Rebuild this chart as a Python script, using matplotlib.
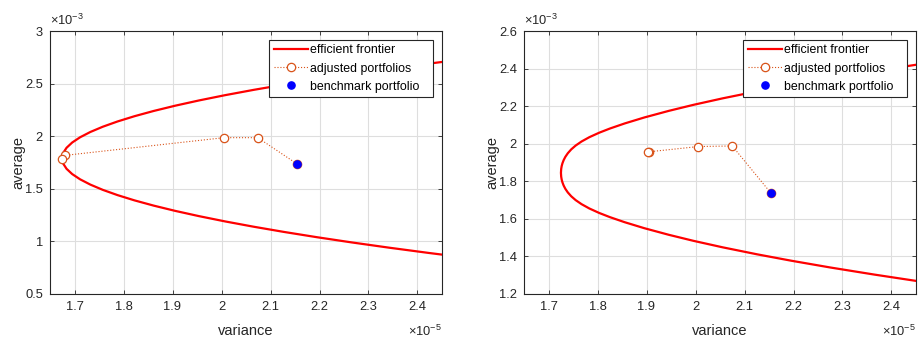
import numpy as np
import matplotlib
matplotlib.use('Agg')
import matplotlib.pyplot as plt
from matplotlib.ticker import FuncFormatter

plt.rcParams['font.family'] = ['Liberation Sans', 'DejaVu Sans']
plt.rcParams['mathtext.fontset'] = 'custom'
plt.rcParams['mathtext.rm'] = 'Liberation Sans'
plt.rcParams['mathtext.it'] = 'Liberation Sans'

# variance in units of 1e-5, average in units of 1e-3
front1_mean = [0.84, 0.89, 0.94, 0.99, 1.04, 1.09, 1.14, 1.19, 1.24, 1.29, 1.34, 1.39, 1.44,
               1.49, 1.54, 1.59, 1.64, 1.69, 1.74, 1.79, 1.84, 1.89, 1.94, 1.99, 2.04, 2.09,
               2.14, 2.19, 2.24, 2.29, 2.34, 2.39, 2.44, 2.49, 2.54, 2.59, 2.64, 2.69, 2.74]
front1_var = [2.5089, 2.4234, 2.3425, 2.2662, 2.1946, 2.1275, 2.0651, 2.0073, 1.9542, 1.9056,
              1.8617, 1.8224, 1.7878, 1.7577, 1.7323, 1.7115, 1.6953, 1.6838, 1.6768, 1.6745,
              1.6768, 1.6838, 1.6953, 1.7115, 1.7323, 1.7577, 1.7878, 1.8224, 1.8617, 1.9056,
              1.9542, 2.0073, 2.0651, 2.1275, 2.1946, 2.2662, 2.3425, 2.4234, 2.5089]

front2_var = [2.45, 2.3654, 2.2754, 2.1954, 2.1254, 2.0554, 1.9954, 1.9454, 1.8954, 1.8554,
              1.8254, 1.8034, 1.7834, 1.7674, 1.7554, 1.7464, 1.7394, 1.7344, 1.7309, 1.7284,
              1.7269, 1.7259, 1.7254, 1.7259, 1.7269, 1.7284, 1.7309, 1.7344, 1.7394, 1.7464,
              1.7554, 1.7674, 1.7834, 1.8034, 1.8254, 1.8554, 1.8954, 1.9454, 1.9954, 2.0554,
              2.1254, 2.1954, 2.2754, 2.3654, 2.45]
front2_mean = [1.2698, 1.3032, 1.3410, 1.3772, 1.4114, 1.4485, 1.4833, 1.5152, 1.5504, 1.5822,
               1.6091, 1.6315, 1.6552, 1.6783, 1.6998, 1.7202, 1.7407, 1.7598, 1.7775, 1.7946,
               1.8091, 1.8242, 1.845, 1.8658, 1.8809, 1.8954, 1.9125, 1.9302, 1.9493, 1.9698,
               1.9902, 2.0117, 2.0348, 2.0585, 2.0809, 2.1078, 2.1396, 2.1748, 2.2067, 2.2415,
               2.2786, 2.3128, 2.3490, 2.3868, 2.4202]

adj1_var = [2.154, 2.074, 2.005, 1.681, 1.674]
adj1_mean = [1.737, 1.986, 1.986, 1.818, 1.783]
adj2_var = [2.154, 2.075, 2.006, 1.905, 1.903]
adj2_mean = [1.737, 1.988, 1.985, 1.957, 1.955]

bench_var = [2.154]
bench_mean = [1.737]

x_ticks = [1.7, 1.8, 1.9, 2.0, 2.1, 2.2, 2.3, 2.4]
y1_ticks = [0.5, 1, 1.5, 2, 2.5, 3]
y2_ticks = [1.2, 1.4, 1.6, 1.8, 2.0, 2.2, 2.4, 2.6]

ink = '#262626'
orange = '#D95319'

fig = plt.figure(figsize=(9.19, 3.39), dpi=100)
ax1 = fig.add_axes([50/919, 45/339, 392/919, 263/339])
ax2 = fig.add_axes([524/919, 45/339, 392/919, 263/339])

panels = [
    (ax1, front1_var, front1_mean, adj1_var, adj1_mean, y1_ticks, (0.5, 3.0)),
    (ax2, front2_var, front2_mean, adj2_var, adj2_mean, y2_ticks, (1.2, 2.6)),
]

fmt = FuncFormatter(lambda v, p: '%g' % round(v, 6))

for ax, fv, fm, av, am, yt, ylim in panels:
    ax.plot(fv, fm, color='#FF0000', lw=1.6, label='efficient frontier', zorder=3,
            solid_joinstyle='round')
    ax.plot(av, am, color=orange, ls=':', lw=0.8, marker='o', ms=6,
            mfc='white', mec=orange, mew=0.9, label='adjusted portfolios', zorder=4)
    ax.plot(bench_var, bench_mean, ls='none', marker='o', ms=5.2, mfc='#0000FF',
            mec='#0000FF', label='benchmark portfolio', zorder=5)

    ax.set_xlim(1.65, 2.45)
    ax.set_ylim(*ylim)
    ax.set_xticks(x_ticks)
    ax.set_yticks(yt)
    ax.xaxis.set_major_formatter(fmt)
    ax.yaxis.set_major_formatter(fmt)
    ax.grid(True, color='#dedede', lw=0.8)
    ax.set_axisbelow(True)
    ax.tick_params(direction='in', length=3, width=0.6, colors=ink, labelsize=9.3,
                   top=True, right=True, pad=5)
    for s in ax.spines.values():
        s.set_color(ink)
        s.set_linewidth(0.8)

    ax.set_xlabel('variance', fontsize=10.5, color=ink)
    ax.set_ylabel('average', fontsize=10.5, color=ink)
    ax.xaxis.set_label_coords(0.5, -0.115)
    ax.yaxis.set_label_coords(-0.062, 0.5)

    ax.text(0.0, 1.012, r'$\times10^{-3}$', transform=ax.transAxes, fontsize=9.3,
            color=ink, ha='left', va='bottom')
    ax.text(1.0, -0.158, r'$\times10^{-5}$', transform=ax.transAxes, fontsize=9.3,
            color=ink, ha='right', va='baseline')

    leg = ax.legend(loc='upper left', bbox_to_anchor=(0.5594, 0.5, 0.4169, 0.4658),
                    mode='expand', fontsize=8.9, handlelength=2.75, handletextpad=0.2,
                    borderpad=0.35, labelspacing=0.5, borderaxespad=0, fancybox=False,
                    framealpha=1, edgecolor=ink)
    leg.get_frame().set_linewidth(0.8)

fig.savefig('out.png', dpi=100)
